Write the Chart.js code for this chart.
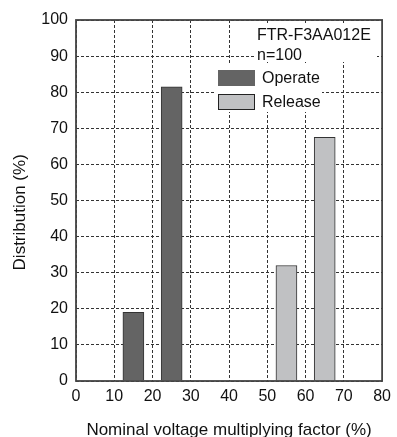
<!DOCTYPE html>
<html>
<head>
<meta charset="utf-8">
<script src="https://cdn.jsdelivr.net/npm/chart.js@4"></script>
<style>
  html, body { margin: 0; padding: 0; background: #fff; }
  #wrap { width: 397px; height: 437px; }
</style>
</head>
<body>
<div id="wrap"><canvas id="chart"></canvas></div>
<script>
// Data
const operateX = [15, 25];
const operateY = [19, 81.5];
const releaseX = [55, 65];
const releaseY = [32, 67.5];
const xTicks = [0, 10, 20, 30, 40, 50, 60, 70, 80];
const yTicks = [0, 10, 20, 30, 40, 50, 60, 70, 80, 90, 100];
const noteLines = ['FTR-F3AA012E', 'n=100'];

const FONT = 'Liberation Sans, Arial, sans-serif';
const toPoints = (xs, ys) => xs.map((x, i) => ({ x: x, y: ys[i] }));

// frame round the plot area + annotation text + legend
const framePlugin = {
    id: 'frame',
    afterDatasetsDraw(chart) {
        const ctx = chart.ctx;
        const a = chart.chartArea;
        ctx.save();

        // white behind the text, the grid breaks there
        ctx.fillStyle = '#fff';
        ctx.fillRect(a.left + 180, a.top + 4, 121, 38);
        ctx.fillRect(a.left + 139, a.top + 44, 107, 48);

        ctx.font = '16px ' + FONT;
        ctx.fillStyle = '#111';
        ctx.textBaseline = 'middle';
        ctx.textAlign = 'left';
        noteLines.forEach((t, i) => ctx.fillText(t, a.left + 181, a.top + 16 + i * 20));

        // legend
        chart.data.datasets.forEach((ds, i) => {
            const y = a.top + 50 + i * 24;
            ctx.fillStyle = ds.backgroundColor;
            ctx.fillRect(a.left + 142, y, 37, 16);
            if (i === 1) {
                ctx.strokeStyle = '#222';
                ctx.lineWidth = 1;
                ctx.strokeRect(a.left + 142.5, y + 0.5, 36, 15);
            }
            ctx.fillStyle = '#111';
            ctx.fillText(ds.label, a.left + 186, y + 9);
        });

        ctx.strokeStyle = '#444';
        ctx.lineWidth = 1.8;
        ctx.strokeRect(a.left, a.top, a.right - a.left, a.bottom - a.top);
        ctx.restore();
    }
};

const ctx = document.getElementById('chart').getContext('2d');
new Chart(ctx, {
    type: 'bar',
    data: {
        datasets: [
            {
                label: 'Operate',
                data: toPoints(operateX, operateY),
                backgroundColor: '#646464',
                borderColor: '#333',
                borderWidth: 1,
                barThickness: 21
            },
            {
                label: 'Release',
                data: toPoints(releaseX, releaseY),
                backgroundColor: '#c0c1c3',
                borderColor: '#333',
                borderWidth: 1,
                barThickness: 21
            }
        ]
    },
    options: {
        responsive: true,
        maintainAspectRatio: false,
        animation: false,
        grouped: false,
        layout: { padding: { top: 20, right: 11, left: 0, bottom: 0 } },
        plugins: {
            legend: { display: false },
            tooltip: { enabled: false }
        },
        scales: {
            x: {
                type: 'linear',
                min: 0,
                max: 80,
                offset: false,
                afterBuildTicks: (s) => { s.ticks = xTicks.map(v => ({ value: v })); },
                afterFit: (s) => { s.height = 56; },
                grid: {
                    offset: false,
                    drawTicks: false,
                    color: '#333',
                    lineWidth: 1
                },
                border: { display: false, dash: [3, 2] },
                ticks: {
                    padding: 6,
                    color: '#111',
                    font: { family: FONT, size: 16 }
                },
                title: {
                    display: true,
                    text: 'Nominal voltage multiplying factor (%)',
                    color: '#111',
                    font: { family: FONT, size: 17 },
                    padding: { top: 0, bottom: -4 }
                }
            },
            y: {
                min: 0,
                max: 100,
                afterBuildTicks: (s) => { s.ticks = yTicks.map(v => ({ value: v })); },
                afterFit: (s) => { s.width = 76; },
                grid: {
                    drawTicks: false,
                    color: '#333',
                    lineWidth: 1
                },
                border: { display: false, dash: [3, 2] },
                ticks: {
                    padding: 8,
                    color: '#111',
                    font: { family: FONT, size: 16 }
                },
                title: {
                    display: true,
                    // trailing spaces push the visible text a little down, as in the reference
                    text: 'Distribution (%)     ',
                    color: '#111',
                    font: { family: FONT, size: 17 },
                    padding: { top: 10, bottom: 0 }
                }
            }
        }
    },
    plugins: [framePlugin]
});
</script>
</body>
</html>
